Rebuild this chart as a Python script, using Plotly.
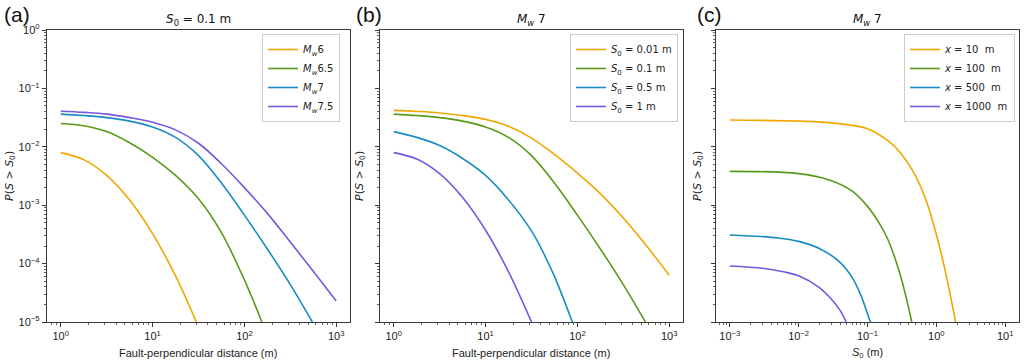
import plotly.graph_objects as go

# ---------------- data ----------------
# Panel (a): S0 = 0.1 m, x = fault-perpendicular distance (m)
a_labels = ["<i>M</i><sub><i>w</i></sub>6", "<i>M</i><sub><i>w</i></sub>6.5",
            "<i>M</i><sub><i>w</i></sub>7", "<i>M</i><sub><i>w</i></sub>7.5"]
a_x_mw6 = [1, 1.778, 3.162, 5.623, 10, 17.78, 30]
a_p_mw6 = [7.94e-3, 6.03e-3, 3.24e-3, 1.23e-3, 3.26e-4, 6.17e-5, 1.0e-5]
a_x_mw65 = [1, 1.778, 3.162, 5.623, 10, 17.78, 31.62, 56.23, 100, 155]
a_p_mw65 = [2.51e-2, 2.29e-2, 1.82e-2, 1.17e-2, 6.61e-3, 3.24e-3, 1.29e-3, 3.39e-4, 5.25e-5, 1.0e-5]
a_x_mw7 = [1, 1.778, 3.162, 5.623, 10, 17.78, 31.62, 56.23, 100, 177.8, 316.2, 550]
a_p_mw7 = [3.63e-2, 3.43e-2, 3.16e-2, 2.75e-2, 2.19e-2, 1.45e-2, 7.08e-3, 2.40e-3, 6.76e-4,
           1.78e-4, 4.37e-5, 1.0e-5]
a_x_mw75 = [1, 1.778, 3.162, 5.623, 10, 17.78, 31.62, 56.23, 100, 177.8, 316.2, 562.3, 1000]
a_p_mw75 = [4.07e-2, 3.89e-2, 3.63e-2, 3.16e-2, 2.63e-2, 1.95e-2, 1.15e-2, 5.13e-3, 2.0e-3,
            7.24e-4, 2.34e-4, 7.41e-5, 2.29e-5]

# Panel (b): Mw 7, x = fault-perpendicular distance (m)
b_labels = ["<i>S</i><sub>0</sub> = 0.01 m", "<i>S</i><sub>0</sub> = 0.1 m",
            "<i>S</i><sub>0</sub> = 0.5 m", "<i>S</i><sub>0</sub> = 1 m"]
b_x_s001 = [1, 1.778, 3.162, 5.623, 10, 17.78, 31.62, 56.23, 100, 177.8, 316.2, 562.3, 1000]
b_p_s001 = [4.20e-2, 4.03e-2, 3.80e-2, 3.43e-2, 2.95e-2, 2.24e-2, 1.41e-2, 7.41e-3, 3.55e-3,
            1.58e-3, 6.03e-4, 2.04e-4, 6.31e-5]
b_x_s01 = [1, 1.778, 3.162, 5.623, 10, 17.78, 31.62, 56.23, 100, 177.8, 316.2, 550]
b_p_s01 = [3.63e-2, 3.43e-2, 3.16e-2, 2.75e-2, 2.19e-2, 1.45e-2, 7.08e-3, 2.40e-3, 6.76e-4,
           1.78e-4, 4.37e-5, 1.0e-5]
b_x_s05 = [1, 1.778, 3.162, 5.623, 10, 17.78, 31.62, 42.17, 56.23, 88.1]
b_p_s05 = [1.82e-2, 1.45e-2, 1.05e-2, 6.31e-3, 3.24e-3, 1.23e-3, 3.63e-4, 1.58e-4, 6.03e-5, 1.0e-5]
b_x_s1 = [1, 1.778, 3.162, 5.623, 10, 17.78, 31.62]
b_p_s1 = [7.94e-3, 6.17e-3, 3.47e-3, 1.35e-3, 3.72e-4, 7.24e-5, 1.0e-5]

# Panel (c): Mw 7, x axis = S0 (m)
c_labels = ["<i>x</i> = 10\u00a0 m", "<i>x</i> = 100\u00a0 m",
            "<i>x</i> = 500\u00a0 m", "<i>x</i> = 1000\u00a0 m"]
c_s_x10 = [0.001, 0.01, 0.03, 0.1, 0.2, 0.3, 0.5, 0.7, 1.0, 1.4, 1.9]
c_p_x10 = [2.88e-2, 2.75e-2, 2.57e-2, 2.04e-2, 1.26e-2, 7.94e-3, 3.16e-3, 1.26e-3, 3.16e-4,
           6.03e-5, 1.0e-5]
c_s_x100 = [0.001, 0.01, 0.03, 0.06, 0.1, 0.15, 0.2, 0.3, 0.44]
c_p_x100 = [3.80e-3, 3.47e-3, 2.63e-3, 1.74e-3, 9.55e-4, 4.79e-4, 2.51e-4, 6.31e-5, 1.0e-5]
c_s_x500 = [0.001, 0.005, 0.01, 0.02, 0.04, 0.06, 0.08, 0.1, 0.11]
c_p_x500 = [3.09e-4, 2.75e-4, 2.40e-4, 1.82e-4, 1.05e-4, 5.75e-5, 2.88e-5, 1.38e-5, 1.0e-5]
c_s_x1000 = [0.001, 0.003, 0.006, 0.01, 0.02, 0.03, 0.04, 0.049]
c_p_x1000 = [9.12e-5, 8.32e-5, 7.24e-5, 6.17e-5, 3.89e-5, 2.45e-5, 1.58e-5, 1.0e-5]

colors = ["#F2A700", "#5A9A1A", "#1A8CC4", "#7657DE"]

dist_ticks = [1, 10, 100, 1000]
dist_text = ["10<sup>0</sup>", "10<sup>1</sup>", "10<sup>2</sup>", "10<sup>3</sup>"]
s0_ticks = [0.001, 0.01, 0.1, 1, 10]
s0_text = ["10<sup>\u22123</sup>", "10<sup>\u22122</sup>", "10<sup>\u22121</sup>",
           "10<sup>0</sup>", "10<sup>1</sup>"]
p_ticks = [1e-5, 1e-4, 1e-3, 1e-2, 1e-1, 1]
p_text = ["10<sup>\u22125</sup>", "10<sup>\u22124</sup>", "10<sup>\u22123</sup>",
          "10<sup>\u22122</sup>", "10<sup>\u22121</sup>", "10<sup>0</sup>"]

# ---------------- figure ----------------
W, H = 1024, 363
fig = go.Figure()

panels = [
    ("x", "y", "legend", a_labels,
     [(a_x_mw6, a_p_mw6), (a_x_mw65, a_p_mw65), (a_x_mw7, a_p_mw7), (a_x_mw75, a_p_mw75)]),
    ("x2", "y2", "legend2", b_labels,
     [(b_x_s001, b_p_s001), (b_x_s01, b_p_s01), (b_x_s05, b_p_s05), (b_x_s1, b_p_s1)]),
    ("x3", "y3", "legend3", c_labels,
     [(c_s_x10, c_p_x10), (c_s_x100, c_p_x100), (c_s_x500, c_p_x500), (c_s_x1000, c_p_x1000)]),
]
for xa, ya, lg, labels, series in panels:
    for (xs, ps), lab, col in zip(series, labels, colors):
        fig.add_trace(go.Scatter(x=xs, y=ps, mode="lines", name=lab, xaxis=xa, yaxis=ya,
                                 legend=lg, line=dict(color=col, width=1.6, shape="spline",
                                                      smoothing=1.0)))


def minor_vals(lo, hi):
    out = []
    e = lo
    while e < hi:
        for m in range(2, 10):
            out.append(m * 10.0 ** e)
        e += 1
    return out


axcol = "#3a3a3a"
tickfont = dict(family="Liberation Sans, Arial", size=11, color="#222")


def axis(domain, rng, tv, tt, minor, labels, anchor):
    return dict(type="log", domain=domain, range=rng, anchor=anchor,
                tickmode="array", tickvals=tv, ticktext=tt, showticklabels=labels,
                ticks="outside", ticklen=4, tickwidth=1, tickcolor=axcol,
                showline=True, linecolor=axcol, linewidth=1.2, mirror=True,
                showgrid=False, zeroline=False, tickfont=tickfont, automargin=False,
                minor=dict(tickmode="array", tickvals=minor, ticks="outside", ticklen=2,
                           tickwidth=0.8, tickcolor=axcol, showgrid=False))


ydom = [1 - 322 / H, 1 - 30 / H]
xd = [[47 / W, 350 / W], [380 / W, 683 / W], [716 / W, 1019 / W]]
dist_minor = minor_vals(-1, 4)
s0_minor = minor_vals(-4, 2)
p_minor = minor_vals(-5, 0)

fig.update_layout(
    width=W, height=H, margin=dict(l=0, r=0, t=0, b=0, pad=0, autoexpand=False),
    paper_bgcolor="white", plot_bgcolor="white", hovermode=False,
    xaxis=axis(xd[0], [-0.15, 3.15], dist_ticks, dist_text, dist_minor, True, "y"),
    xaxis2=axis(xd[1], [-0.15, 3.15], dist_ticks, dist_text, dist_minor, True, "y2"),
    xaxis3=axis(xd[2], [-3.2, 1.2], s0_ticks, s0_text, s0_minor, True, "y3"),
    yaxis=axis(ydom, [-5, 0], p_ticks, p_text, p_minor, True, "x"),
    yaxis2=axis(ydom, [-5, 0], p_ticks, p_text, p_minor, False, "x2"),
    yaxis3=axis(ydom, [-5, 0], p_ticks, p_text, p_minor, False, "x3"),
)

legfont = dict(family="DejaVu Sans", size=10, color="#222")
for name, xr in [("legend", 340), ("legend2", 678), ("legend3", 1015)]:
    fig.update_layout({name: dict(x=xr / W, y=1 - 34 / H, xanchor="right", yanchor="top",
                                  bgcolor="rgba(255,255,255,0.9)", bordercolor="#cccccc",
                                  borderwidth=1, font=legfont, tracegroupgap=0,
                                  itemwidth=30)})

anns = []
# panel letters
for txt, cx in [("(a)", 17), ("(b)", 369), ("(c)", 709)]:
    anns.append(dict(text=txt, x=cx / W, y=1 - 15 / H, xref="paper", yref="paper",
                     showarrow=False, xanchor="center", yanchor="middle",
                     font=dict(family="Liberation Sans, Arial", size=21, color="#111")))
# titles
for txt, cx in [("<i>S</i><sub>0</sub> = 0.1 m", 198),
                ("<i>M</i><sub><i>w</i></sub> 7", 531),
                ("<i>M</i><sub><i>w</i></sub> 7", 867)]:
    anns.append(dict(text=txt, x=cx / W, y=1 - 20 / H, xref="paper", yref="paper",
                     showarrow=False, xanchor="center", yanchor="middle",
                     font=dict(family="DejaVu Sans", size=12, color="#111")))
# x titles
for txt, cx in [("Fault-perpendicular distance (m)", 198),
                ("Fault-perpendicular distance (m)", 531),
                ("<i>S</i><sub>0</sub> (m)", 867)]:
    anns.append(dict(text=txt, x=cx / W, y=1 - 353 / H, xref="paper", yref="paper",
                     showarrow=False, xanchor="center", yanchor="middle",
                     font=dict(family="Liberation Sans, Arial", size=11, color="#222")))
# y titles
for cx in [10, 360, 698]:
    anns.append(dict(text="<i>P</i>(<i>S</i> > <i>S</i><sub>0</sub>)", x=cx / W,
                     y=1 - 176 / H, xref="paper", yref="paper", textangle=-90,
                     showarrow=False, xanchor="center", yanchor="middle",
                     font=dict(family="DejaVu Sans", size=11, color="#222")))
fig.update_layout(annotations=anns)

fig.write_html("out.html", config={"displayModeBar": False, "staticPlot": True},
               post_script="document.body.style.margin='0px';"
                           "document.body.style.overflow='hidden';")
